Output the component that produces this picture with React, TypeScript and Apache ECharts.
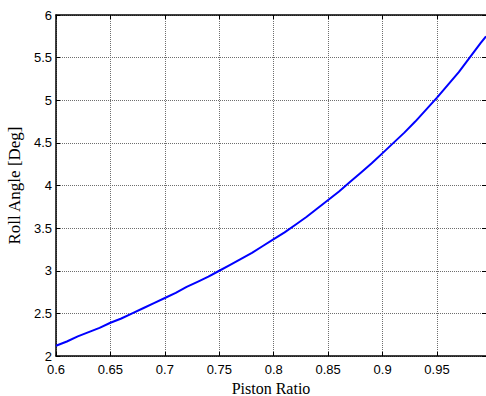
import React, { useEffect, useRef } from "react";
import * as echarts from "echarts";

// Piston ratio samples and the corresponding roll angle (degrees)
const pistonRatio = [
  0.6, 0.61, 0.62, 0.63, 0.64, 0.65, 0.66, 0.67, 0.68, 0.69, 0.7, 0.71, 0.72, 0.73, 0.74,
  0.75, 0.76, 0.77, 0.78, 0.79, 0.8, 0.81, 0.82, 0.83, 0.84, 0.85, 0.86, 0.87, 0.88, 0.89,
  0.9, 0.91, 0.92, 0.93, 0.94, 0.95, 0.96, 0.97, 0.98, 0.99, 0.995,
];
const rollAngle = [
  2.12, 2.17, 2.23, 2.28, 2.33, 2.39, 2.44, 2.5, 2.56, 2.62, 2.68, 2.74, 2.81, 2.87, 2.93,
  3.0, 3.07, 3.14, 3.21, 3.29, 3.37, 3.45, 3.54, 3.63, 3.73, 3.83, 3.93, 4.04, 4.15, 4.26,
  4.38, 4.5, 4.62, 4.75, 4.89, 5.03, 5.18, 5.33, 5.5, 5.67, 5.75,
];

const X_MIN = 0.6;
const X_MAX = 0.995;
const Y_MIN = 2;
const Y_MAX = 6;

// Only label the 0.05 steps (the axis end at 0.995 stays unlabelled)
const fmt = (v: number) => {
  const r = Math.round(v * 100) / 100;
  if (Math.abs(Math.round(r * 20) - r * 20) > 1e-6) return "";
  return String(r);
};

export default function App() {
  const ref = useRef<HTMLDivElement>(null);

  useEffect(() => {
    if (!ref.current) return;
    const chart = echarts.init(ref.current, null, { renderer: "svg" });
    const tickFont = {
      fontFamily: "Liberation Sans, Arial, sans-serif",
      fontSize: 13,
      color: "#000",
    };
    const serif = "Liberation Serif, Times New Roman, serif";
    const gridLine = { show: true, lineStyle: { color: "#6e6e6e", type: "dotted" as const, width: 1 } };
    const frameLine = { show: true, lineStyle: { color: "#000", width: 1.5 } };
    const tickIn = { show: true, inside: true, length: 4, lineStyle: { color: "#000", width: 1 } };

    chart.setOption({
      animation: false,
      backgroundColor: "#fff",
      grid: { left: 56, right: 0, top: 15, bottom: 40, outerBoundsMode: "none", containLabel: false },
      xAxis: [
        {
          type: "value",
          min: X_MIN,
          max: X_MAX,
          interval: 0.05,
          position: "bottom",
          axisLine: frameLine,
          axisTick: tickIn,
          splitLine: gridLine,
          axisLabel: { ...tickFont, margin: 7, lineHeight: 12, formatter: fmt, showMaxLabel: false },
          name: "Piston Ratio",
          nameLocation: "middle",
          nameGap: 21,
          nameTextStyle: { fontFamily: serif, fontSize: 16, lineHeight: 16, color: "#000" },
        },
        {
          type: "value",
          min: X_MIN,
          max: X_MAX,
          interval: 0.05,
          position: "top",
          axisLine: frameLine,
          axisTick: tickIn,
          splitLine: { show: false },
          axisLabel: { show: false },
        },
      ],
      yAxis: [
        {
          type: "value",
          min: Y_MIN,
          max: Y_MAX,
          interval: 0.5,
          position: "left",
          axisLine: frameLine,
          axisTick: tickIn,
          splitLine: gridLine,
          axisLabel: { ...tickFont, margin: 4, lineHeight: 11 },
          name: "Roll Angle [Deg]",
          nameLocation: "middle",
          nameGap: 29,
          nameTextStyle: { fontFamily: serif, fontSize: 17, lineHeight: 16, color: "#000" },
        },
        {
          type: "value",
          min: Y_MIN,
          max: Y_MAX,
          interval: 0.5,
          position: "right",
          axisLine: { show: false },
          axisTick: tickIn,
          splitLine: { show: false },
          axisLabel: { show: false },
        },
      ],
      series: [
        {
          type: "line",
          xAxisIndex: 0,
          yAxisIndex: 0,
          data: pistonRatio.map((x, i) => [x, rollAngle[i]]),
          showSymbol: false,
          smooth: false,
          lineStyle: { color: "#0000ff", width: 2 },
        },
      ],
    });
    return () => chart.dispose();
  }, []);

  return (
    <div
      ref={ref}
      style={{ position: "fixed", left: 0, top: 0, width: 486, height: 396, background: "#fff" }}
    />
  );
}
